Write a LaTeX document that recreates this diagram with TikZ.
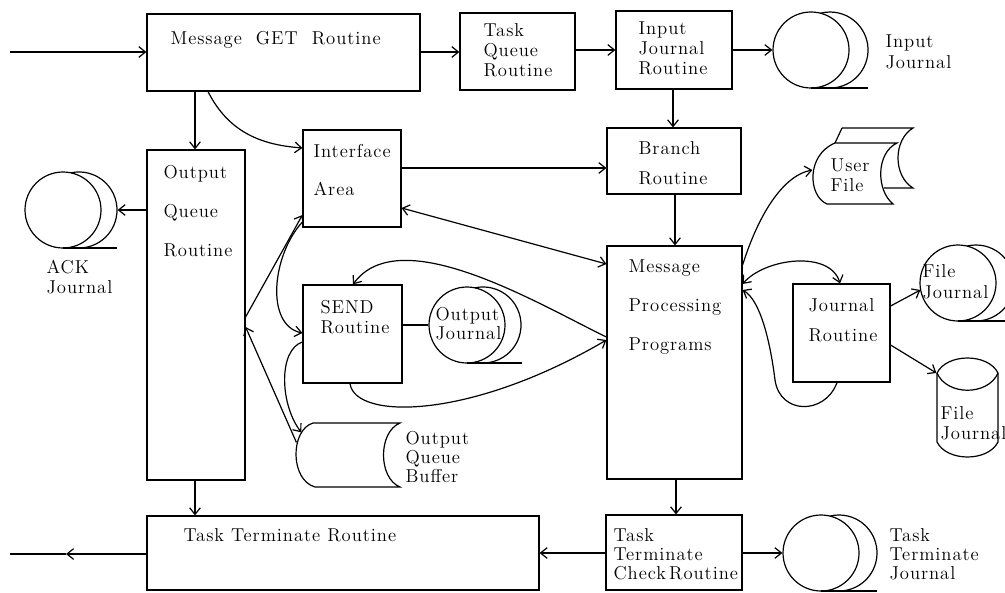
\documentclass[tikz,border=0pt]{standalone}
\usepackage{fontspec}
\setmainfont{Latin Modern Roman}[LetterSpace=5]
\usetikzlibrary{arrows.meta,fit}
\begin{document}
\begin{tikzpicture}[x=0.75pt,y=-0.75pt,
  line width=0.9pt,
  >={Straight Barb[length=5pt,width=8pt]},
  box/.style={draw, rectangle, inner sep=0pt},
  area/.style={inner sep=0pt},
  drum/.style={draw, circle, minimum size=57pt, inner sep=0pt},
  lbl/.style={anchor=west, align=left, inner sep=0pt, font=\fontsize{14}{#1}\selectfont},
  lbl/.default=15pt]
\clip (0,0) rectangle (1005,592);

% ---------- process boxes ----------
\node[box, fit={(147,14) (420,91)}]   (mget) {};
\node[box, fit={(460,13) (575,90)}]   (tq)   {};
\node[box, fit={(616,11) (732,89)}]   (ijr)  {};
\node[box, fit={(147,150) (245,480)}] (oq)   {};
\node[box, fit={(303,130) (401,227)}] (ia)   {};
\node[box, fit={(607,128) (741,194)}] (br)   {};
\node[box, fit={(607,246) (742,479)}] (mpp)  {};
\node[box, fit={(303,285) (402,383)}] (send) {};
\node[box, fit={(793,284) (890,382)}] (jr)   {};
\node[box, fit={(147,516) (539,590)}] (ttr)  {};
\node[box, fit={(606,515) (742,590)}] (ttcr) {};

% ---------- tape drums ----------
\node[drum] (ijd) at (811,50)  {};
\draw ([shift={(9.5,36.8)}]ijd.center) arc[start angle=104.5, end angle=-104.5, radius=38];
\draw ([shift={(0,38)}]ijd.center) -- ++(57,0);

\node[drum] (ack) at (63,210) {};
\draw ([shift={(8,37.1)}]ack.center) arc[start angle=102.2, end angle=-102.2, radius=38];
\draw ([shift={(0,38)}]ack.center) -- ++(54,0);

\node[drum] (oj) at (467,325) {};
\draw ([shift={(8,37.1)}]oj.center) arc[start angle=102.2, end angle=-102.2, radius=38];
\draw ([shift={(0,38)}]oj.center) -- ++(55,0);

\node[drum] (fjd) at (958,283) {};
\draw ([shift={(9,36.9)}]fjd.center) arc[start angle=103.7, end angle=-103.7, radius=38];
\draw ([shift={(0,38)}]fjd.center) -- ++(60,0);

\node[drum] (ttj) at (821,553) {};
\draw ([shift={(9,36.9)}]ttj.center) arc[start angle=103.7, end angle=-103.7, radius=38];
\draw ([shift={(0,38)}]ttj.center) -- ++(56,0);

% ---------- stored data: Output Queue Buffer ----------
\draw (313,423) -- (400,423) .. controls (378,432) and (378,478) .. (400,487)
      -- (315,487) .. controls (290,480) and (290,430) .. (313,423) -- cycle;
\node[area, fit={(294,423) (400,487)}] (oqb) {};

% ---------- stored data: User File ----------
\draw (842,128) -- (913,128) .. controls (893,140) and (893,176) .. (913,188) -- (884,188);
\draw (842,128) -- (835,143);
\draw[fill=white] (835,143) -- (897,143) .. controls (876,153) and (876,190) .. (893,204)
      -- (827,204) .. controls (808,196) and (806,155) .. (835,143) -- cycle;
\node[area, fit={(813,128) (913,204)}] (uf) {};

% ---------- disk: File Journal ----------
\draw (937,373) .. controls (947,353) and (988,353) .. (998,373);
\draw (937,373) .. controls (947,396) and (988,396) .. (998,373);
\draw (937,373) -- (937,442) .. controls (947,462) and (988,462) .. (998,442) -- (998,373);
\node[area, fit={(937,358) (998,457)}] (fjk) {};

% ---------- texts ----------
\node[lbl] (tmget) at (170,40) {Message~~GET~~Routine};
\node[lbl=15pt] (ttq) at (483,50) {Task\\Queue\\Routine};
\node[lbl=15pt] (tijr) at (638,48) {Input\\Journal\\Routine};
\node[lbl=15.5pt] (tijd) at (885,52) {Input\\Journal};
\node[lbl=29.5pt] (toq) at (163,211) {Output\\Queue\\Routine};
\node[lbl=29pt] (tia) at (313,170) {Interface\\Area};
\node[lbl=15pt] (tack) at (46,277) {ACK\\Journal};
\node[lbl=22.5pt] (tbr) at (638,163) {Branch\\Routine};
\node[lbl=29pt] (tmpp) at (628,307) {Message\\Processing\\Programs};
\node[lbl=15pt] (tsend) at (320,317) {SEND\\Routine};
\node[lbl=14.3pt] (toj) at (435,324) {Output\\Journal};
\node[lbl=14.6pt] (toqb) at (405,457) {Output\\Queue\\Buffer};
\node[lbl=15pt] (tuf) at (830,175) {User\\File};
\node[lbl=22.5pt] (tjr) at (808,320) {Journal\\Routine};
\node[lbl=15.5pt] (tfjd) at (922,282) {File\\Journal};
\node[lbl=15pt] (tfjk) at (940,423) {File\\Journal};
\node[lbl] (tttr) at (183,535) {Task Terminate Routine};
\node[lbl=14.3pt] (tttcr) at (613,554) {Task\\Terminate\\Check\,Routine};
\node[lbl=14.3pt] (tttj) at (889,554) {Task\\Terminate\\Journal};

% ---------- connectors ----------
\coordinate (inL) at (10,52);
\coordinate (outL) at (10,554);
\coordinate (outM) at (66,554);

\draw[->] (inL) -- (mget.west |- inL);
\draw[->] (mget.east |- 0,52) -- (tq.west |- 0,52);
\draw[->] (tq.east |- 0,50) -- (ijr.west |- 0,50);
\draw[->] (ijr.east |- 0,50) -- (ijd.west);
\draw[->] (mget.south -| 195,0) -- (oq.north -| 195,0);
\draw[->] (mget.south -| 208,0) .. controls (230,135) and (265,145) .. (ia.west |- 0,148);
\draw[->] (ia.east |- 0,168) -- (br.west |- 0,168);
\draw[->] (ijr.south -| 673,0) -- (br.north -| 673,0);
\draw[->] (br.south -| 675,0) -- (mpp.north -| 675,0);
\draw[->] (mpp.south -| 676,0) -- (ttcr.north -| 676,0);
\draw[->] (ttcr.west |- 0,553) -- (ttr.east |- 0,553);
\draw[->] (ttcr.east |- 0,553) -- (ttj.west);
\draw[->] (oq.south -| 195,0) -- (ttr.north -| 195,0);
\draw[->] (ttr.west |- outM) -- (outM);
\draw (outM) -- (outL);

\draw[->] (oq.west |- ack.east) -- ([xshift=12pt]ack.east);
\draw[->] (oq.east |- 0,317) -- (ia.west |- 0,215);
\draw[->] ([shift={(3,20)}]oqb.north west) -- (oq.east |- 0,327);
\draw[->] (ia.west |- 0,222) .. controls (272,255) and (265,325) .. (send.west |- 0,333);
\draw[->] (send.west |- 0,342) .. controls (278,350) and (280,405) .. ([shift={(8,10)}]oqb.north west);
\draw (send.east |- 0,325) -- (oj.west);
\draw[<->] (ia.east |- 0,208) -- (mpp.west |- 0,264);
\draw[->] (mpp.west |- 0,337) .. controls (540,305) and (400,220) .. (send.north -| 353,0);
\draw[->] (send.south -| 350,0) .. controls (355,420) and (470,420) .. (mpp.west |- 0,340);

\draw[->] (mpp.east |- 0,265) .. controls (760,210) and (785,175) .. (uf.west |- 0,170);
\draw[<->] (mpp.east |- 0,284) .. controls (765,258) and (830,250) .. (jr.north -| 840,0);
\draw[->] (jr.south -| 837,0) .. controls (825,415) and (780,415) .. (775,380)
          .. controls (770,340) and (760,300) .. (mpp.east |- 0,290);
\draw[->] (jr.east |- 0,306) -- ([shift={(1,7)}]fjd.west);
\draw[->] (jr.east |- 0,345) -- (fjk.west |- 0,373);
\end{tikzpicture}
\end{document}
